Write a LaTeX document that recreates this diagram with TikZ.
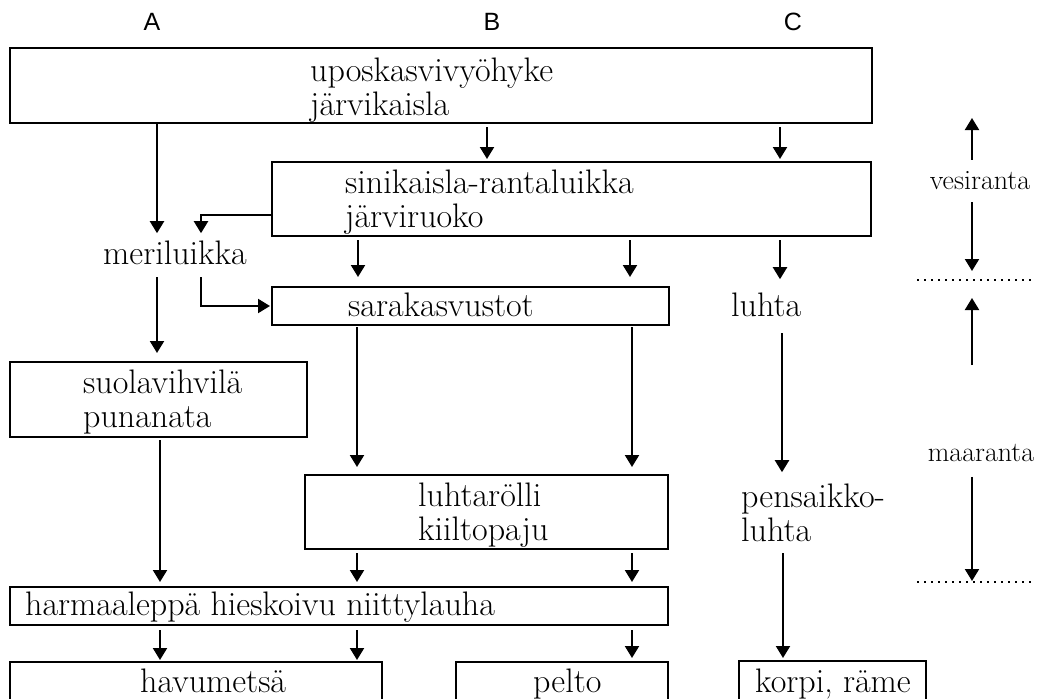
\documentclass[tikz,border=0pt]{standalone}
\usepackage{fontspec}
\newfontfamily\hdr{Liberation Sans}
\usetikzlibrary{arrows.meta,calc}
\begin{document}
\begin{tikzpicture}[x=1pt,y=-1pt,
  box/.style={draw, line width=1.9pt, inner sep=0pt, outer sep=0pt, anchor=north west},
  txt/.style={font=\fontsize{34}{34}\selectfont, inner sep=0pt, anchor=base west, align=left},
  small/.style={font=\fontsize{28}{30}\selectfont, inner sep=0pt},
  head/.style={font=\hdr\fontsize{25}{27}\selectfont, inner sep=0pt, anchor=base},
  arr/.style={line width=2.1pt, -{Triangle[width=14pt,length=12pt]}},
  dots/.style={line width=1.8pt, dash pattern=on 2pt off 5pt}]
\clip (0,0) rectangle (1050,699);
\fill[white] (0,0) rectangle (1050,699);

% headers
\node[head] (hA) at (152,30) {A};
\node[head] (hB) at (492,30) {B};
\node[head] (hC) at (793,30) {C};

% boxes
\node[box, minimum width=862pt, minimum height=75pt] (top) at (10,48) {};
\node[box, minimum width=599pt, minimum height=74pt] (b2) at (272,162) {};
\node[box, minimum width=397pt, minimum height=38pt] (sara) at (272,287) {};
\node[box, minimum width=297pt, minimum height=75pt] (suola) at (10,362) {};
\node[box, minimum width=363pt, minimum height=74pt] (lr) at (305,475) {};
\node[box, minimum width=658pt, minimum height=38pt] (harm) at (10,587) {};
\node[box, minimum width=372pt, minimum height=60pt] (havu) at (10,662) {};
\node[box, minimum width=212pt, minimum height=60pt] (pelto) at (456,662) {};
\node[box, minimum width=187pt, minimum height=60pt] (korpi) at (739,661) {};

% texts (multi-line nodes are placed by the baseline of their last line)
\node[txt] (topt) at (310,115) {uposkasvivyöhyke\\järvikaisla};
\node[txt] (b2t) at (345,227) {sinikaisla-rantaluikka\\järviruoko};
\node[txt] (mer) at (103,264) {meriluikka};
\node[txt] (sarat) at (348,316) {sarakasvustot};
\node[txt] (luhta) at (731,316) {luhta};
\node[txt] (suolat) at (83,427) {suolavihvilä\\punanata};
\node[txt] (lrt) at (418,540) {luhtarölli\\kiiltopaju};
\node[txt] (pens) at (741,541) {pensaikko-\\luhta};
\node[txt] (harmt) at (25,615) {harmaaleppä hieskoivu niittylauha};
\node[txt] (havut) at (140,692) {havumetsä};
\node[txt] (peltot) at (533,692) {pelto};
\node[txt] (korpit) at (755,692) {korpi, räme};

% connectors
\draw[arr] ($(top.south west)+(147,0)$) -- ($(mer.north west)+(54,-7)$);
\draw[arr] ($(top.south west)+(477,4)$) -- ($(b2.north west)+(215,-3)$);
\draw[arr] ($(top.south west)+(770,4)$) -- ($(b2.north west)+(508,-3)$);
\draw[arr] ($(b2.west)+(0,16)$) -| ($(mer.north west)+(98,-7)$);
\draw[arr] ($(b2.south west)+(86,4)$) -- ($(sara.north west)+(86,-10)$);
\draw[arr] ($(b2.south west)+(358,4)$) -- ($(sara.north west)+(358,-10)$);
\draw[arr] ($(b2.south west)+(508,4)$) -- ($(luhta.north west)+(49,-13)$);
\draw[arr] ($(mer.south west)+(54,13)$) -- ($(suola.north west)+(147,-9)$);
\draw[arr] ($(mer.south west)+(98,13)$) |- ($(sara.west)+(-2,0)$);
\draw[arr] ($(sara.south west)+(85,2)$) -- ($(lr.north west)+(52,-8)$);
\draw[arr] ($(sara.south west)+(360,2)$) -- ($(lr.north west)+(327,-8)$);
\draw[arr] ($(luhta.south west)+(51,17)$) -- ($(pens.north west)+(41,-11)$);
\draw[arr] ($(suola.south west)+(150,3)$) -- ($(harm.north west)+(150,-5)$);
\draw[arr] ($(lr.south west)+(52,4)$) -- ($(harm.north west)+(347,-5)$);
\draw[arr] ($(lr.south west)+(327,4)$) -- ($(harm.north west)+(622,-5)$);
\draw[arr] ($(harm.south west)+(150,5)$) -- ($(havu.north west)+(150,-2)$);
\draw[arr] ($(harm.south west)+(347,5)$) -- ($(havu.north west)+(347,-2)$);
\draw[arr] ($(harm.south west)+(622,5)$) -- ($(pelto.north west)+(176,-4)$);
\draw[arr] ($(pens.south west)+(42,12)$) -- ($(korpi.north west)+(44,-3)$);

% right scale
\coordinate (vtop) at (972,118);
\coordinate (d1a) at (917,280);
\coordinate (d1b) at (1032,280);
\coordinate (d2a) at (917,582);
\coordinate (d2b) at (1032,582);
\node[small] (ves) at (980,181) {vesiranta};
\node[small] (maa) at (981,453) {maaranta};
\draw[dots] (d1a) -- (d1b);
\draw[dots] (d2a) -- (d2b);
\draw[arr] ($(ves.north -| vtop)+(0,-12)$) -- (vtop);
\draw[arr] ($(ves.south -| vtop)+(0,12)$) -- ($(d1a -| vtop)+(0,-9)$);
\draw[arr] ($(d1a -| vtop)+(0,85)$) -- ($(d1a -| vtop)+(0,18)$);
\draw[arr] ($(maa.south -| vtop)+(0,15)$) -- ($(d2a -| vtop)+(0,-1)$);
\end{tikzpicture}
\end{document}
